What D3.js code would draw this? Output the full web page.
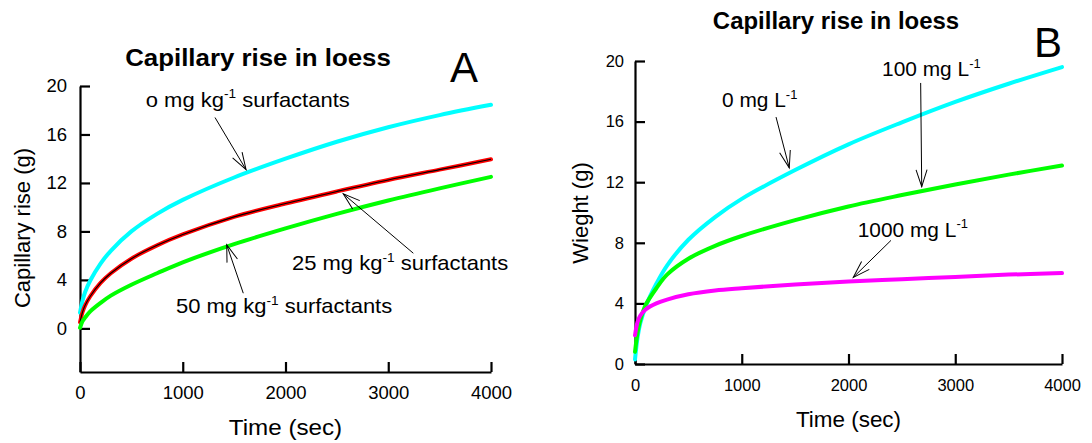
<!DOCTYPE html>
<html>
<head>
<meta charset="utf-8">
<script src="https://cdn.jsdelivr.net/npm/d3@7"></script>
<style>
  body { margin: 0; background: #fff; }
  svg text { font-family: "Liberation Sans", Arial, sans-serif; fill: #000; }
</style>
</head>
<body>
<div id="chart"></div>
<script>
(function() {

    // time points (sec) shared by every curve
    var times = [0, 25, 50, 100, 200, 300, 500, 750, 1000, 1500, 2000, 2500, 3000, 3500, 4000];

    // panel A - capillary rise (g), soil surfactant dose
    var riseA0 = [1.3, 2.3, 3.0, 3.95, 5.35, 6.4, 8.0, 9.45, 10.6, 12.45, 14.0, 15.4, 16.6, 17.6, 18.45];
    var riseA25 = [0.5, 1.35, 1.9, 2.65, 3.75, 4.55, 5.75, 6.85, 7.75, 9.2, 10.3, 11.3, 12.25, 13.1, 13.95];
    var riseA50 = [0.05, 0.6, 0.9, 1.4, 2.1, 2.7, 3.6, 4.55, 5.45, 6.95, 8.25, 9.45, 10.55, 11.55, 12.5];

    // panel B - weight (g), solution concentration
    var weightB0 = [0.3, 1.8, 2.7, 3.8, 5.3, 6.5, 8.2, 9.7, 10.9, 12.8, 14.5, 15.95, 17.3, 18.5, 19.6];
    var weightB100 = [0.8, 2.1, 2.9, 3.9, 5.0, 5.9, 6.95, 7.8, 8.45, 9.5, 10.4, 11.15, 11.85, 12.5, 13.1];
    var weightB1000 = [1.9, 2.8, 3.2, 3.6, 4.0, 4.25, 4.6, 4.85, 5.0, 5.25, 5.45, 5.6, 5.75, 5.9, 6.0];

    var xTicks = [0, 1000, 2000, 3000, 4000];
    var yTicks = [0, 4, 8, 12, 16, 20];

    // label, text anchor [t, v], arrow start [t, v], arrow tip [t, v]
    var notesA = [
        {pre: "o mg kg", post: " surfactants", at: [640, 18.3], from: [1314, 17.4], to: [1616, 13.1]},
        {pre: "25 mg kg", post: " surfactants", at: [2063, 4.8], from: [3244, 6.2], to: [2562, 11.1]},
        {pre: "50 mg kg", post: " surfactants", at: [934, 1.25], from: [1589, 2.9], to: [1428, 6.9]}
    ];
    var notesB = [
        {pre: "0 mg L", post: "", at: [815, 16.95], from: [1321, 16.3], to: [1445, 12.95]},
        {pre: "100 mg L", post: "", at: [2314, 18.98], from: [2676, 18.55], to: [2686, 11.7]},
        {pre: "1000 mg L", post: "", at: [2086, 8.38], from: [2398, 8.16], to: [2045, 5.72]}
    ];

    var width = 1092;
    var height = 443;
    var svg = d3.select("#chart").append("svg")
        .attr("width", width)
        .attr("height", height);

    var defs = svg.append("defs");
    defs.append("marker")
        .attr("id", "arrowhead")
        .attr("viewBox", "-20 -10 22 20")
        .attr("refX", 0)
        .attr("refY", 0)
        .attr("markerWidth", 22)
        .attr("markerHeight", 20)
        .attr("markerUnits", "userSpaceOnUse")
        .attr("orient", "auto")
      .append("path")
        .attr("d", "M-17,-5.5L0,0L-17,5.5")
        .attr("fill", "none")
        .attr("stroke", "#000")
        .attr("stroke-width", 1);

    function panel(opt) {
        var x = d3.scaleLinear().domain([0, 4000]).range(opt.xRange);
        var y = d3.scaleLinear().domain(opt.yDomain).range(opt.yRange);
        var g = svg.append("g");

        var yAxis = g.append("g")
            .attr("transform", "translate(" + opt.xRange[0] + ",0)")
            .call(d3.axisLeft(y).tickValues(yTicks).tickSizeInner(-10).tickSizeOuter(0)
                .tickPadding(opt.yPad).tickFormat(d3.format("d")));
        var xAxis = g.append("g")
            .attr("transform", "translate(0," + opt.yRange[0] + ")")
            .call(d3.axisBottom(x).tickValues(xTicks).tickSizeInner(-10).tickSizeOuter(0)
                .tickPadding(opt.xPad).tickFormat(d3.format("d")));

        [yAxis, xAxis].forEach(function(a) {
            a.select(".domain").attr("stroke-width", 2.2);
            a.selectAll(".tick line").attr("stroke-width", 2.2);
            a.selectAll(".tick text")
                .attr("font-family", "Liberation Sans, Arial, sans-serif")
                .attr("font-size", opt.tickSize);
        });

        var line = d3.line()
            .x(function(d, i) { return x(times[i]); })
            .y(function(d) { return y(d); })
            .curve(d3.curveCatmullRom.alpha(0.5));

        opt.series.forEach(function(s) {
            g.append("path")
                .attr("d", line(s.values))
                .attr("fill", "none")
                .attr("stroke", s.color)
                .attr("stroke-width", 4)
                .attr("stroke-linecap", "round");
            if (s.core) {
                g.append("path")
                    .attr("d", line(s.values))
                    .attr("fill", "none")
                    .attr("stroke", s.core)
                    .attr("stroke-width", 1.1);
            }
        });

        opt.notes.forEach(function(n) {
            g.append("line")
                .attr("x1", x(n.from[0])).attr("y1", y(n.from[1]))
                .attr("x2", x(n.to[0])).attr("y2", y(n.to[1]))
                .attr("stroke", "#000")
                .attr("stroke-width", 1)
                .attr("marker-end", "url(#arrowhead)");
            // the source figure is a little wider than tall, so stretch text sideways
            var t = g.append("text")
                .attr("transform", "translate(" + x(n.at[0]) + "," + y(n.at[1]) + ") scale(" + opt.stretch + ",1)")
                .attr("font-size", opt.noteSize);
            t.append("tspan").text(n.pre);
            t.append("tspan")
                .attr("dy", -opt.noteSize * 0.42)
                .attr("font-size", opt.noteSize * 0.62)
                .text("-1");
            if (n.post) {
                t.append("tspan")
                    .attr("dy", opt.noteSize * 0.42)
                    .text(n.post);
            }
        });

        g.append("text")
            .attr("transform", "translate(" + opt.titlePos[0] + "," + opt.titlePos[1] + ") scale(" + opt.stretch + ",1)")
            .attr("text-anchor", "middle")
            .attr("font-weight", "bold")
            .attr("font-size", opt.titleSize)
            .text("Capillary rise in loess");

        g.append("text")
            .attr("x", opt.letterPos[0])
            .attr("y", opt.letterPos[1])
            .attr("font-size", 42)
            .text(opt.letter);

        g.append("text")
            .attr("transform", "translate(" + ((opt.xRange[0] + opt.xRange[1]) / 2) + "," + opt.xTitleY + ") scale(" + opt.stretch + ",1)")
            .attr("text-anchor", "middle")
            .attr("font-size", 22)
            .text("Time (sec)");

        g.append("text")
            .attr("transform", "translate(" + opt.yTitlePos[0] + "," + opt.yTitlePos[1] + ") rotate(-90)")
            .attr("text-anchor", "middle")
            .attr("font-size", 22)
            .text(opt.yTitle);
    }

    panel({
        xRange: [80, 491], yRange: [372, 86], yDomain: [-3.6, 20],
        yPad: 13, xPad: 14, tickSize: 18.5, noteSize: 20, titleSize: 23.5, stretch: 1.1,
        titlePos: [258, 66], letterPos: [450, 82], letter: "A",
        xTitleY: 435, yTitlePos: [30, 228], yTitle: "Capillary rise (g)",
        notes: notesA,
        series: [
            {values: riseA0, color: "#00ffff"},
            {values: riseA25, color: "#ff0000", core: "#000"},
            {values: riseA50, color: "#00ff00"}
        ]
    });

    panel({
        xRange: [635, 1062], yRange: [364, 61], yDomain: [0, 20],
        yPad: 11, xPad: 15, tickSize: 16.5, noteSize: 20.5, titleSize: 23.5, stretch: 1.02,
        titlePos: [836, 29], letterPos: [1034, 57], letter: "B",
        xTitleY: 427, yTitlePos: [588, 213], yTitle: "Wieght (g)",
        notes: notesB,
        series: [
            {values: weightB0, color: "#00ffff"},
            {values: weightB100, color: "#00ff00"},
            {values: weightB1000, color: "#ff00ff"}
        ]
    });

})();
</script>
</body>
</html>
